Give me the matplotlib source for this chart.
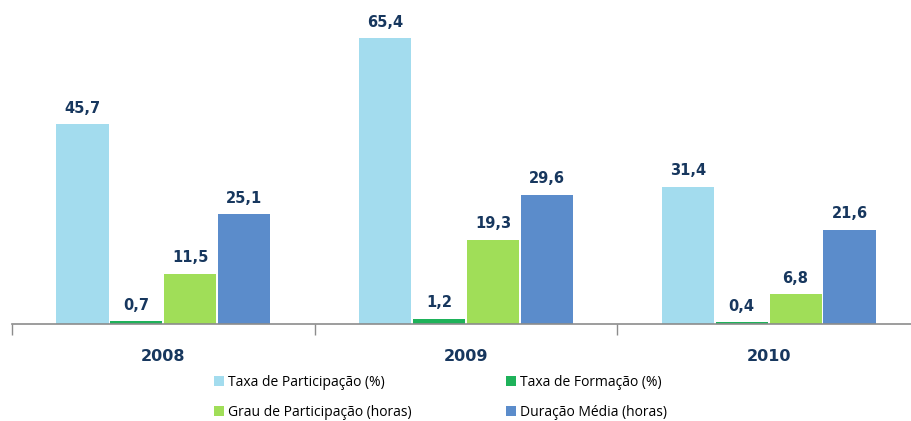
import numpy as np
import matplotlib.pyplot as plt
from matplotlib.ticker import FixedLocator

years = ["2008", "2009", "2010"]
taxa_participacao = [45.7, 65.4, 31.4]
taxa_formacao = [0.7, 1.2, 0.4]
grau_participacao = [11.5, 19.3, 6.8]
duracao_media = [25.1, 29.6, 21.6]

series = [
    ("Taxa de Participação (%)", taxa_participacao, "#A3DCEE"),
    ("Taxa de Formação (%)", taxa_formacao, "#1EB25A"),
    ("Grau de Participação (horas)", grau_participacao, "#A0DE58"),
    ("Duração Média (horas)", duracao_media, "#5B8CCB"),
]

label_color = "#17375E"

fig = plt.figure(figsize=(9.11, 4.21), dpi=100)
# axis spans from x=12px to past the right edge, zero line at y=324px
ax = fig.add_axes([12 / 911, 97 / 421, 908 / 911, 324 / 421])

x = np.arange(len(years))
width = 0.172
step = 0.178
handles = []
for i, (name, vals, color) in enumerate(series):
    pos = x + (i - 1.5) * step
    bars = ax.bar(pos, vals, width, color=color, label=name)
    handles.append(bars)
    for p, v in zip(pos, vals):
        ax.annotate(f"{v:.1f}".replace(".", ","), (p, v), xytext=(0, 6),
                    textcoords="offset points", ha="center", va="bottom",
                    fontsize=10.5, fontweight="bold", color=label_color)

ax.set_xlim(-0.5, 2.5)
ax.set_ylim(0, 74.1)
ax.set_yticks([])
for s in ["top", "right", "left"]:
    ax.spines[s].set_visible(False)
ax.spines["bottom"].set_color("#8C8C8C")
ax.spines["bottom"].set_linewidth(1.2)

ax.set_xticks(x)
ax.set_xticklabels(years, fontsize=11.5, fontweight="bold", color=label_color)
ax.tick_params(axis="x", which="major", length=0, pad=18)
ax.xaxis.set_minor_locator(FixedLocator([-0.5, 0.5, 1.5, 2.5]))
ax.tick_params(axis="x", which="minor", length=8, width=1, color="#8C8C8C",
               direction="out")

order = [0, 2, 1, 3]
fig.legend([handles[k] for k in order], [series[k][0] for k in order],
           ncol=2, loc="upper left", bbox_to_anchor=(214 / 911, 1 - 375 / 421),
           frameon=False, prop={"family": "Open Sans", "size": 10},
           handlelength=0.75, handleheight=0.7,
           handletextpad=0.25, columnspacing=6.8, labelspacing=1.05,
           borderaxespad=0, borderpad=0)

fig.savefig("out.png", dpi=100)
